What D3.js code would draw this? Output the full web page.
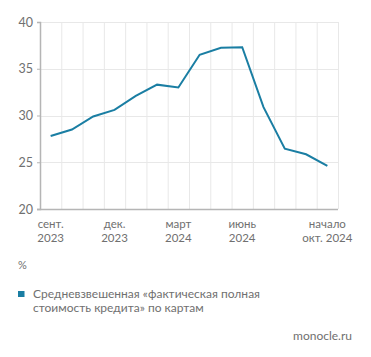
<!DOCTYPE html>
<html><head><meta charset="utf-8">
<script src="https://cdn.jsdelivr.net/npm/d3@7"></script>
<style>body{margin:0;background:#fff}svg{display:block}text{font-family:Lato,"Open Sans",sans-serif}</style>
</head><body><svg id="c" width="371" height="357"></svg>
<script>
const categories = ["сент. 2023","окт. 2023","нояб. 2023","дек. 2023","янв. 2024","февр. 2024","март 2024","апр. 2024","май 2024","июнь 2024","июль 2024","авг. 2024","сент. 2024","начало окт. 2024"];
const values = [27.8,28.5,29.9,30.6,32.1,33.3,33.0,36.5,37.25,37.3,30.9,26.45,25.85,24.6];
const yTicks = [20,25,30,35,40];
const xLabels = {0:["сент.","2023"],3:["дек.","2023"],6:["март","2024"],9:["июнь","2024"],13:["начало","окт. 2024"]};
const legendLines = ["Средневзвешенная «фактическая полная","стоимость кредита» по картам"];
const color = "#1a7ea3", textColor = "#707070";

const svg = d3.select("#c");
const x = d3.scaleBand().domain(categories).range([40,338]);
const y = d3.scaleLinear().domain([20,40]).range([209,22]);

// grid
svg.append("g").selectAll("line").data(categories.slice(1).concat(["end"])).join("line")
  .attr("x1",(d,i)=> i<categories.length-1 ? x(d)+0.5 : 338.5).attr("x2",(d,i)=> i<categories.length-1 ? x(d)+0.5 : 338.5)
  .attr("y1",22).attr("y2",209).attr("stroke","#e8e8e8").attr("stroke-width",1);
svg.append("g").selectAll("line").data(yTicks.slice(1)).join("line")
  .attr("x1",40).attr("x2",338).attr("y1",d=>Math.round(y(d))+0.5).attr("y2",d=>Math.round(y(d))+0.5)
  .attr("stroke","#e8e8e8");

// y axis
const ya = svg.append("g").attr("transform","translate(40,0)")
  .call(d3.axisLeft(y).tickValues(yTicks).tickSize(3).tickPadding(4));
ya.select(".domain").attr("stroke","#b5b5b5").attr("stroke-width",1.5);
ya.selectAll(".tick line").attr("stroke","#b5b5b5");
ya.selectAll("text").attr("fill",textColor).style("font-size","12.5px").style("font-family","Lato,'Open Sans',sans-serif");

// x axis line
svg.append("line").attr("x1",37).attr("x2",338).attr("y1",209.5).attr("y2",209.5).attr("stroke","#b5b5b5").attr("stroke-width",1.5);

// x labels
const xl = svg.append("g");
Object.entries(xLabels).forEach(([i,lines])=>{
  const cx = x(categories[+i]) + x.bandwidth()/2;
  lines.forEach((l,k)=> xl.append("text").attr("x",cx).attr("y",228 + k*14).attr("text-anchor","middle")
    .attr("fill",textColor).style("font-size","11.5px").text(l));
});

// line
svg.append("path").datum(values)
  .attr("d", d3.line().x((d,i)=>x(categories[i])+x.bandwidth()/2).y(d=>y(d)))
  .attr("fill","none").attr("stroke",color).attr("stroke-width",2).attr("stroke-linejoin","miter");

// % label
svg.append("text").attr("x",18).attr("y",269).attr("fill",textColor).style("font-size","11px").text("%");

// legend
svg.append("rect").attr("x",18).attr("y",291).attr("width",6.5).attr("height",6).attr("fill",color);
legendLines.forEach((l,k)=> svg.append("text").attr("x",33).attr("y",298 + k*14).attr("fill",textColor).style("font-size","12px").text(l));

svg.append("text").attr("x",352).attr("y",340).attr("text-anchor","end").attr("fill",textColor).style("font-size","12px").text("monocle.ru");
</script></body></html>
